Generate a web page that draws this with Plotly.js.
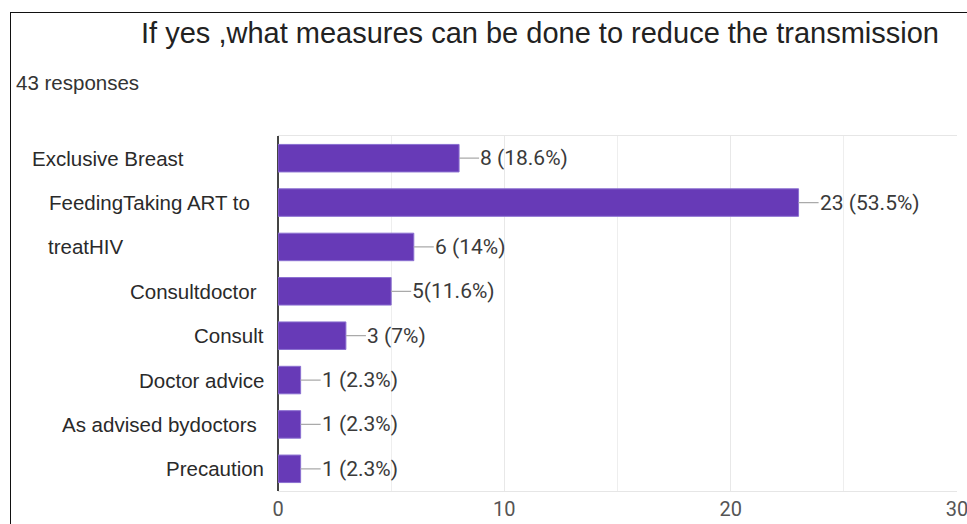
<!DOCTYPE html>
<html>
<head>
<meta charset="utf-8">
<script src="https://cdn.plot.ly/plotly-3.0.1.min.js"></script>
<style>
html,body{margin:0;padding:0;background:#fff;}
#wrap{position:relative;width:967px;height:524px;overflow:hidden;}
#chart{position:absolute;left:0;top:0;width:967px;height:524px;}
#frame{position:absolute;left:10px;top:12px;width:970px;height:530px;border-left:1.5px solid #111;border-top:1.5px solid #111;pointer-events:none;}
</style>
</head>
<body>
<div id="wrap"><div id="chart"></div><div id="frame"></div></div>
<script>
// ---- data ----
const categories = ["Exclusive Breast", "FeedingTaking ART to", "treatHIV", "Consultdoctor", "Consult", "Doctor advice", "As advised bydoctors", "Precaution"];
const counts = [8, 23, 6, 5, 3, 1, 1, 1];
const valueLabels = ["8 (18.6%)", "23 (53.5%)", "6 (14%)", "5(11.6%)", "3 (7%)", "1 (2.3%)", "1 (2.3%)", "1 (2.3%)"];
const xTicks = [0, 10, 20, 30];
const titleText = "If yes ,what measures can be done to reduce the transmission";
const subtitleText = "43 responses";

// ---- layout geometry (pixels) ----
const W = 967, H = 524;
const M = {l: 278, r: 10, t: 136, b: 33};
const PW = W - M.l - M.r, PH = H - M.t - M.b;
const pxX = px => (px - M.l) / PW;
const pxY = py => 1 - (py - M.t) / PH;
// category label placement (style only)
const labelPlace = [
  {anchor: 'left', px: 30}, {anchor: 'left', px: 47}, {anchor: 'left', px: 46},
  {anchor: 'right', px: 259}, {anchor: 'right', px: 266}, {anchor: 'right', px: 266},
  {anchor: 'right', px: 259}, {anchor: 'right', px: 266}
];

const annotations = [];
categories.forEach((c, i) => {
  annotations.push({
    xref: 'paper', yref: 'y', x: pxX(labelPlace[i].px), y: c,
    xanchor: labelPlace[i].anchor, yanchor: 'middle', showarrow: false,
    text: c, font: {family: 'Liberation Sans, Arial, sans-serif', size: 20.5, color: '#2a2a2a'}
  });
  annotations.push({
    xref: 'x', yref: 'y', x: counts[i], y: c,
    text: valueLabels[i], showarrow: true, arrowhead: 0, arrowwidth: 1.2, arrowcolor: '#aaa',
    ax: 20, ay: 0, xanchor: 'left', yanchor: 'middle', standoff: 0, startstandoff: 0, borderpad: 0,
    font: {family: 'Roboto, sans-serif', size: 21, color: '#3a3a3a'}
  });
});
annotations.push({
  xref: 'paper', yref: 'paper', x: pxX(14), y: pxY(82), xanchor: 'left', yanchor: 'middle',
  showarrow: false, text: subtitleText,
  font: {family: 'Liberation Sans, Arial, sans-serif', size: 20.5, color: '#333'}
});

const trace = {
  type: 'bar', orientation: 'h', x: counts, y: categories, width: 0.62,
  marker: {color: '#673ab7', line: {color: '#8a6fd0', width: 1}},
  hoverinfo: 'x+y'
};

const layout = {
  width: W, height: H, margin: M, paper_bgcolor: '#fff', plot_bgcolor: '#fff',
  showlegend: false,
  title: {
    text: titleText, xref: 'paper', x: pxX(540), xanchor: 'center',
    yref: 'container', y: 1 - 33 / H, yanchor: 'middle',
    font: {family: 'Liberation Sans, Arial, sans-serif', size: 29, color: '#222'}
  },
  xaxis: {
    range: [0, 30], tickvals: xTicks, ticktext: xTicks.map(String), ticks: '',
    ticklabeloverflow: 'allow',
    showgrid: true, gridcolor: '#e8e8e8', gridwidth: 1,
    minor: {dtick: 5, showgrid: true, gridcolor: '#eeeeee', gridwidth: 1},
    showline: true, linecolor: '#e6e6e6', linewidth: 1, mirror: true,
    zeroline: true, zerolinecolor: '#444', zerolinewidth: 1.5,
    tickfont: {family: 'Roboto, sans-serif', size: 20, color: '#555'},
    fixedrange: true
  },
  yaxis: {
    type: 'category', autorange: 'reversed', showticklabels: false, showgrid: false,
    zeroline: false, showline: false, ticks: '', fixedrange: true
  },
  annotations: annotations
};

Plotly.newPlot('chart', [trace], layout, {displayModeBar: false, staticPlot: true});
</script>
</body>
</html>
